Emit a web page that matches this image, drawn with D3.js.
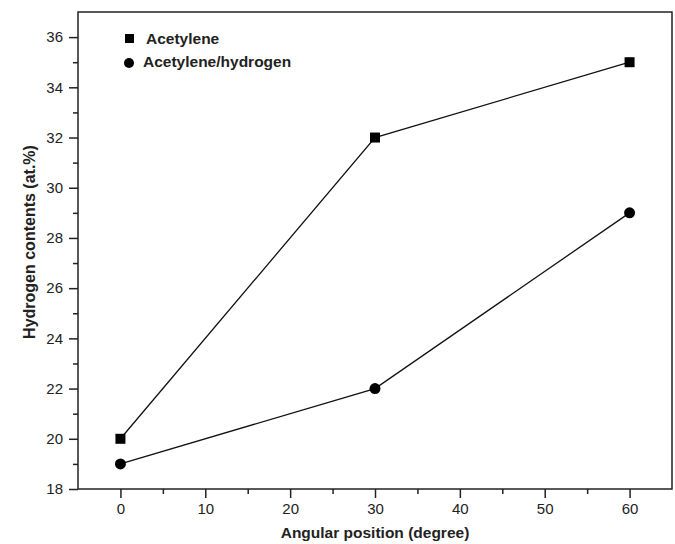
<!DOCTYPE html>
<html><head><meta charset="utf-8">
<script src="https://cdn.jsdelivr.net/npm/d3@7"></script>
<style>body{margin:0;background:#fff}svg{display:block}text{font-family:"Liberation Sans",Arial,sans-serif;fill:#222}</style>
</head><body><svg id="c" width="675" height="544"></svg>
<script>
const angles = [0, 30, 60];
const acetylene = [20, 32, 35];
const acetyleneHydrogen = [19, 22, 29];
const seriesNames = ["Acetylene", "Acetylene/hydrogen"];
const xTicks = [0, 10, 20, 30, 40, 50, 60];
const yTicks = [18, 20, 22, 24, 26, 28, 30, 32, 34, 36];

const svg = d3.select("#c");
const L = 78, R = 672, T = 12, B = 489;
const x = d3.scaleLinear().domain([-5, 65]).range([L, R]);
const y = d3.scaleLinear().domain([18, 37]).range([B, T]);

// frame
svg.append("rect").attr("x", L).attr("y", T).attr("width", R - L).attr("height", B - T)
  .attr("fill", "none").attr("stroke", "#222").attr("stroke-width", 1.5);

// axes
const xAx = svg.append("g").attr("transform", `translate(0,${B})`)
  .call(d3.axisBottom(x).tickValues(xTicks).tickSize(9).tickSizeOuter(0).tickPadding(5));
const xMin = svg.append("g").attr("transform", `translate(0,${B})`)
  .call(d3.axisBottom(x).tickValues(d3.range(-5, 66, 5).filter(v => v % 10 !== 0 && v > -5 && v < 65)).tickSize(5).tickSizeOuter(0).tickFormat(""));
const yAx = svg.append("g").attr("transform", `translate(${L},0)`)
  .call(d3.axisLeft(y).tickValues(yTicks).tickSize(9).tickSizeOuter(0).tickPadding(6));
const yMin = svg.append("g").attr("transform", `translate(${L},0)`)
  .call(d3.axisLeft(y).tickValues(d3.range(19, 37, 2)).tickSize(5).tickSizeOuter(0).tickFormat(""));
[xAx, xMin, yAx, yMin].forEach(g => {
  g.select(".domain").remove();
  g.selectAll("line").attr("stroke", "#222").attr("stroke-width", 1.5);
  g.selectAll("text").style("font-size", "15px").attr("fill", "#222");
});

// lines
const line = d3.line().x((d, i) => x(angles[i])).y(d => y(d));
[acetylene, acetyleneHydrogen].forEach(s => {
  svg.append("path").datum(s).attr("d", line).attr("fill", "none").attr("stroke", "#111").attr("stroke-width", 1.3);
});
svg.selectAll(".sq").data(acetylene).enter().append("rect")
  .attr("x", (d, i) => x(angles[i]) - 5).attr("y", d => y(d) - 5)
  .attr("width", 10).attr("height", 10).attr("fill", "#000");
svg.selectAll(".ci").data(acetyleneHydrogen).enter().append("circle")
  .attr("cx", (d, i) => x(angles[i])).attr("cy", d => y(d)).attr("r", 5.5).attr("fill", "#000");

// legend
svg.append("rect").attr("x", 125).attr("y", 34).attr("width", 9).attr("height", 9).attr("fill", "#000");
svg.append("text").attr("x", 146).attr("y", 44).style("font-size", "15.5px").style("font-weight", "bold").text(seriesNames[0]);
svg.append("circle").attr("cx", 129).attr("cy", 63).attr("r", 5).attr("fill", "#000");
svg.append("text").attr("x", 143).attr("y", 67).style("font-size", "15.5px").style("font-weight", "bold").text(seriesNames[1]);

// axis titles
svg.append("text").attr("x", (L + R) / 2).attr("y", 538).attr("text-anchor", "middle")
  .style("font-size", "15.5px").style("font-weight", "bold").text("Angular position (degree)");
svg.append("text").attr("transform", `translate(35,242) rotate(-90)`).attr("text-anchor", "middle")
  .style("font-size", "16px").style("font-weight", "bold").text("Hydrogen contents (at.%)");
</script></body></html>
